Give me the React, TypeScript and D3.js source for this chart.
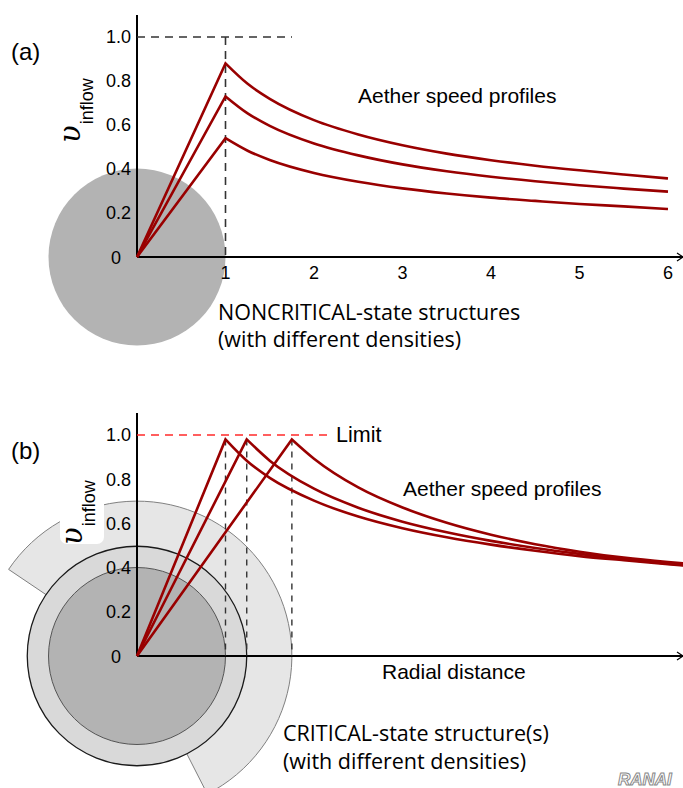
import React from 'react';
import * as d3 from 'd3';

// panel (a): noncritical structures, profiles
const radiiA = [1, 1.25, 1.5, 2, 2.5, 3, 3.5, 4, 4.5, 5, 5.5, 6];
const profileHigh = [0.88, 0.787, 0.719, 0.622, 0.557, 0.508, 0.47, 0.44, 0.415, 0.394, 0.375, 0.357];
const profileMid = [0.73, 0.653, 0.596, 0.516, 0.462, 0.421, 0.39, 0.365, 0.344, 0.326, 0.311, 0.297];
const profileLow = [0.54, 0.483, 0.441, 0.382, 0.342, 0.312, 0.289, 0.27, 0.255, 0.241, 0.23, 0.218];

// panel (b): critical structures, each peaks at the limit
const critRadii1 = [1, 1.25, 1.5, 2, 2.5, 3, 3.5, 4, 4.5, 5, 5.5, 6, 6.3];
const critProfile1 = [0.98, 0.88, 0.806, 0.703, 0.631, 0.578, 0.537, 0.504, 0.476, 0.452, 0.433, 0.415, 0.405];
const critRadii2 = [1.24, 1.5, 2, 2.5, 3, 3.5, 4, 4.5, 5, 5.5, 6, 6.3];
const critProfile2 = [0.98, 0.884, 0.757, 0.671, 0.608, 0.56, 0.521, 0.489, 0.462, 0.438, 0.418, 0.407];
const critRadii3 = [1.75, 2, 2.5, 3, 3.5, 4, 4.5, 5, 5.5, 6, 6.3];
const critProfile3 = [0.98, 0.893, 0.763, 0.672, 0.603, 0.549, 0.506, 0.472, 0.445, 0.425, 0.415];

const yTicks = [0.2, 0.4, 0.6, 0.8, 1.0];
const xTicks = [1, 2, 3, 4, 5, 6];
const limitValue = 1.0;

const RED = '#990000';
const SANS = '"Liberation Sans", Arial, sans-serif';
const MYRIAD = '"Open Sans", "Noto Sans", sans-serif';

const x = d3.scaleLinear().domain([0, 6]).range([137, 668]);
const yA = d3.scaleLinear().domain([0, 1]).range([257, 37]);
const yB = d3.scaleLinear().domain([0, 1]).range([656, 435]);
const unit = x(1) - x(0);

function profilePath(rs: number[], vs: number[], y: d3.ScaleLinear<number, number>) {
  const line = d3.line<number>()
    .x((_, i) => x(rs[i]))
    .y((v) => y(v))
    .curve(d3.curveMonotoneX);
  const decay = line(vs) || '';
  return `M${x(0)},${y(0)}L` + decay.slice(1);
}

const YLabel: React.FC<{ cx: number; cy: number }> = ({ cx, cy }) => (
  <text transform={`translate(${cx},${cy}) rotate(-90)`} fill="#000">
    <tspan fontFamily='"DejaVu Serif", serif' fontStyle="italic" fontSize={29}>υ</tspan>
    <tspan fontFamily={SANS} fontSize={18} dy={13} dx={1}>inflow</tspan>
  </text>
);

const Axes: React.FC<{ y: d3.ScaleLinear<number, number>; top: number }> = ({ y, top }) => (
  <g>
    <line x1={x(0)} x2={x(0)} y1={top} y2={y(0)} stroke="#000" strokeWidth={2} />
    <line x1={x(0)} x2={683} y1={y(0)} y2={y(0)} stroke="#000" strokeWidth={2} />
    <polyline points={`${677},${y(0) - 4} ${683},${y(0)} ${677},${y(0) + 4}`} fill="none" stroke="#000" strokeWidth={1.2} />
    {yTicks.map((t) => (
      <text key={t} x={131} y={y(t)} dy="0.36em" textAnchor="end" fontFamily={SANS} fontSize={18}>
        {t.toFixed(1)}
      </text>
    ))}
    <text x={116} y={y(0) + 1} dy="0.36em" textAnchor="middle" fontFamily={SANS} fontSize={18}>0</text>
  </g>
);

export default function App() {
  const sector = d3.arc()({
    innerRadius: 0,
    outerRadius: 1.75 * unit,
    startAngle: (-56 * Math.PI) / 180,
    endAngle: (153 * Math.PI) / 180,
  }) || '';

  return (
    <svg width={683} height={788} style={{ position: 'absolute', left: 0, top: 0, background: '#fff' }}>
      {/* ---------- panel (a) ---------- */}
      <circle cx={x(0)} cy={yA(0)} r={unit} fill="#b3b3b3" />
      <text x={11} y={60} fontFamily={SANS} fontSize={24}>(a)</text>
      <YLabel cx={80} cy={143} />
      <Axes y={yA} top={15} />
      <line x1={x(0)} x2={292} y1={yA(limitValue)} y2={yA(limitValue)} stroke="#333" strokeWidth={1.6} strokeDasharray="8,6" />
      <line x1={x(1)} x2={x(1)} y1={yA(limitValue)} y2={yA(0)} stroke="#333" strokeWidth={1.6} strokeDasharray="8,6" />
      {xTicks.map((t) => (
        <text key={t} x={x(t)} y={279} textAnchor="middle" fontFamily={SANS} fontSize={18}>{t}</text>
      ))}
      {[profileHigh, profileMid, profileLow].map((vs, i) => (
        <path key={i} d={profilePath(radiiA, vs, yA)} fill="none" stroke={RED} strokeWidth={2.6} strokeLinejoin="miter" />
      ))}
      <text x={358} y={103} fontFamily={SANS} fontSize={21}>Aether speed profiles</text>
      <text x={218} y={320} fontFamily={MYRIAD} fontSize={21.5}>NONCRITICAL-state structures</text>
      <text x={218} y={347} fontFamily={MYRIAD} fontSize={21.5}>(with different densities)</text>

      {/* ---------- panel (b) ---------- */}
      <path d={sector} transform={`translate(${x(0)},${yB(0)})`} fill="#e6e6e6" stroke="#808080" strokeWidth={1} />
      <circle cx={x(0)} cy={yB(0)} r={1.24 * unit} fill="#d9d9d9" stroke="#1a1a1a" strokeWidth={1.3} />
      <circle cx={x(0)} cy={yB(0)} r={unit} fill="#b3b3b3" stroke="#555" strokeWidth={1} />
      <rect x={60} y={468} width={44} height={76} rx={7} fill="#fff" />
      <text x={11} y={459} fontFamily={SANS} fontSize={24}>(b)</text>
      <YLabel cx={82} cy={545} />
      <Axes y={yB} top={413} />
      <line x1={x(0)} x2={332} y1={yB(limitValue)} y2={yB(limitValue)} stroke="#ff2a2a" strokeWidth={1.6} strokeDasharray="8,6" />
      <text x={336} y={442} fontFamily={SANS} fontSize={21.5}>Limit</text>
      {[critRadii1, critRadii2, critRadii3].map((rs, i) => (
        <line key={i} x1={x(rs[0])} x2={x(rs[0])} y1={yB(0.98)} y2={yB(0)} stroke="#333" strokeWidth={1.4} strokeDasharray="6,6" />
      ))}
      {[
        [critRadii1, critProfile1],
        [critRadii2, critProfile2],
        [critRadii3, critProfile3],
      ].map(([rs, vs], i) => (
        <path key={i} d={profilePath(rs, vs, yB)} fill="none" stroke={RED} strokeWidth={2.6} />
      ))}
      <text x={403} y={496} fontFamily={SANS} fontSize={21}>Aether speed profiles</text>
      <text x={382} y={679} fontFamily={SANS} fontSize={21}>Radial distance</text>
      <text x={283} y={741} fontFamily={MYRIAD} fontSize={21.5}>CRITICAL-state structure(s)</text>
      <text x={283} y={769} fontFamily={MYRIAD} fontSize={21.5}>(with different densities)</text>

      <text x={618} y={785} fontFamily={SANS} fontStyle="italic" fontWeight="bold" fontSize={17} fill="#fff" stroke="#888" strokeWidth={1}>RANAI</text>
    </svg>
  );
}
